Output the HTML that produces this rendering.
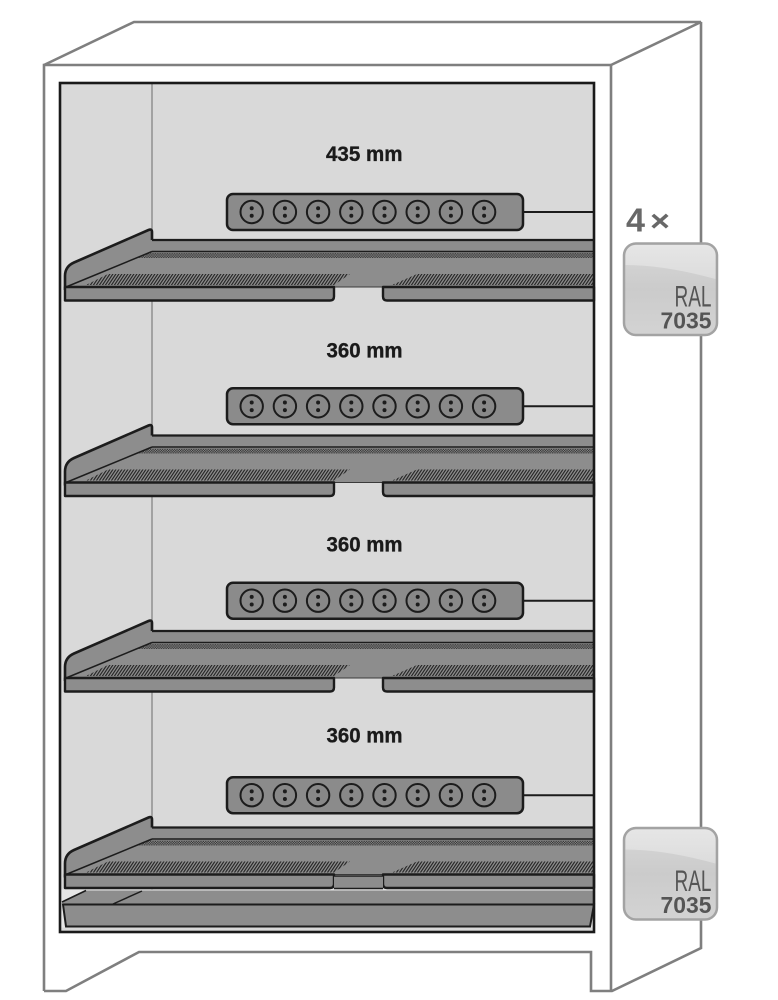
<!DOCTYPE html>
<html><head><meta charset="utf-8">
<style>html,body{margin:0;padding:0;background:#fff;}svg{display:block}</style>
</head>
<body>
<svg width="778" height="1000" viewBox="0 0 778 1000" xmlns="http://www.w3.org/2000/svg" font-family="'Liberation Sans', sans-serif">
<defs>
  <pattern id="hatch" patternUnits="userSpaceOnUse" width="3" height="12" patternTransform="skewX(-34)">
    <rect width="3" height="12" fill="#8d8d8d"/>
    <rect width="1.4" height="12" fill="#262626"/>
  </pattern>
  <pattern id="perf" patternUnits="userSpaceOnUse" width="2.4" height="2.4">
    <rect width="2.4" height="2.4" fill="#8d8d8d"/>
    <rect width="1.2" height="1.2" fill="#2e2e2e"/>
    <rect x="1.2" y="1.2" width="1.2" height="1.2" fill="#2e2e2e"/>
  </pattern>
  <linearGradient id="bgrad" x1="0" y1="0" x2="0" y2="1">
    <stop offset="0" stop-color="#d8d8d8"/>
    <stop offset="0.5" stop-color="#cbcbcb"/>
    <stop offset="1" stop-color="#d3d3d3"/>
  </linearGradient>
  <linearGradient id="hgrad" x1="0" y1="0" x2="0" y2="1">
    <stop offset="0" stop-color="#e6e6e6"/>
    <stop offset="1" stop-color="#dcdcdc"/>
  </linearGradient>

  <g id="shelf">
    <polygon points="152,251 594,251 594,287 65,287" fill="#8d8d8d"/>
    <rect x="152" y="240" width="442" height="11" fill="#8d8d8d"/>
    <line x1="152" y1="240" x2="594" y2="240" stroke="#1c1c1c" stroke-width="2.2"/>
    <line x1="150" y1="251.5" x2="594" y2="251.5" stroke="#1c1c1c" stroke-width="1.6"/>
    <polygon points="148,253 594,253 594,258 137,258" fill="url(#perf)"/>
    <polygon points="108,274 350,274 334,285 86,285" fill="url(#hatch)"/>
    <polygon points="417,274 594,274 594,285 392,285" fill="url(#hatch)"/>
    <path d="M152,252 L152,232 Q152,228.5 148.5,230 L74,262.5 Q65,266.5 65,276 L65,287 Z" fill="#8d8d8d"/>
    <path d="M152,240 L152,232 Q152,228.5 148.5,230 L74,262.5 Q65,266.5 65,276 L65,290" fill="none" stroke="#1c1c1c" stroke-width="2.6" stroke-linejoin="round"/>
    <line x1="152" y1="251.5" x2="66" y2="287" stroke="#1c1c1c" stroke-width="1.5"/>
    <line x1="334" y1="287" x2="383" y2="287" stroke="#3a3a3a" stroke-width="1"/>
    <path d="M65,287 H334 V296.5 Q334,300.5 330,300.5 H65 Z" fill="#8d8d8d" stroke="#1c1c1c" stroke-width="2.4" stroke-linejoin="round"/>
    <path d="M594,287 H383 V296.5 Q383,300.5 387,300.5 H594 Z" fill="#8d8d8d" stroke="#1c1c1c" stroke-width="2.4" stroke-linejoin="round"/>
  </g>

  <g id="strip">
    <line x1="523" y1="212" x2="594" y2="212" stroke="#1c1c1c" stroke-width="2"/>
    <rect x="227" y="194" width="296" height="36" rx="6" fill="#8b8b8b" stroke="#1c1c1c" stroke-width="2.5"/>
    <g fill="#888" stroke="#1c1c1c" stroke-width="2">
      <circle cx="251.7" cy="212" r="11.2"/>
      <circle cx="284.9" cy="212" r="11.2"/>
      <circle cx="318.1" cy="212" r="11.2"/>
      <circle cx="351.3" cy="212" r="11.2"/>
      <circle cx="384.5" cy="212" r="11.2"/>
      <circle cx="417.7" cy="212" r="11.2"/>
      <circle cx="450.9" cy="212" r="11.2"/>
      <circle cx="484.1" cy="212" r="11.2"/>
    </g>
    <g fill="#1c1c1c">
      <circle cx="251.7" cy="208.2" r="2"/><circle cx="251.7" cy="215.8" r="2"/>
      <circle cx="284.9" cy="208.2" r="2"/><circle cx="284.9" cy="215.8" r="2"/>
      <circle cx="318.1" cy="208.2" r="2"/><circle cx="318.1" cy="215.8" r="2"/>
      <circle cx="351.3" cy="208.2" r="2"/><circle cx="351.3" cy="215.8" r="2"/>
      <circle cx="384.5" cy="208.2" r="2"/><circle cx="384.5" cy="215.8" r="2"/>
      <circle cx="417.7" cy="208.2" r="2"/><circle cx="417.7" cy="215.8" r="2"/>
      <circle cx="450.9" cy="208.2" r="2"/><circle cx="450.9" cy="215.8" r="2"/>
      <circle cx="484.1" cy="208.2" r="2"/><circle cx="484.1" cy="215.8" r="2"/>
    </g>
  </g>

  <g id="badge">
    <rect x="624" y="243.5" width="93" height="91.5" rx="12" fill="url(#bgrad)"/>
    <path d="M625.5,265 Q665,265 715.5,279 V256 Q715.5,245 704.5,245 H636.5 Q625.5,245 625.5,256 Z" fill="url(#hgrad)"/>
    <rect x="624" y="243.5" width="93" height="91.5" rx="12" fill="none" stroke="#a3a3a3" stroke-width="2.5"/>
  </g>
</defs>

<rect width="778" height="1000" fill="#fff"/>

<!-- cabinet outline -->
<g fill="none" stroke="#7f7f7f" stroke-width="2.6" stroke-linejoin="miter">
  <polyline points="44,991 44,65 611,65"/>
  <polyline points="44,65 134,22 701,22 611,65"/>
  <line x1="611" y1="65" x2="611" y2="991"/>
  <polyline points="44,991 66,991 139,952 591,952 591,991 612,991 701,948 701,22"/>
</g>

<!-- interior -->
<rect x="60" y="83" width="534" height="849" fill="#d9d9d9"/>
<line x1="152" y1="84" x2="152" y2="890" stroke="#6a6a6a" stroke-width="1"/>

<!-- shelves -->
<use href="#shelf"/>
<use href="#shelf" transform="translate(0,195.5)"/>
<use href="#shelf" transform="translate(0,391)"/>
<use href="#shelf" transform="translate(0,587.5)"/>
<rect x="334" y="876" width="49" height="12.5" fill="#8d8d8d"/>
<line x1="334" y1="876" x2="383" y2="876" stroke="#1c1c1c" stroke-width="1.6"/>
<line x1="334" y1="888.5" x2="383" y2="888.5" stroke="#1c1c1c" stroke-width="1.6"/>

<!-- sump tray -->
<rect x="61" y="889.5" width="532" height="38" fill="#e6e6e6"/>
<polygon points="86,890.5 594,890.5 594,904.5 63,904.5 62,902" fill="#8d8d8d"/>
<line x1="62" y1="902" x2="86" y2="890.5" stroke="#1c1c1c" stroke-width="1.6"/>
<line x1="113" y1="904" x2="142" y2="891" stroke="#1c1c1c" stroke-width="1.5"/>
<polygon points="63,904.5 594,904.5 590,926.5 66,926.5" fill="#8d8d8d" stroke="#1c1c1c" stroke-width="2"/>

<!-- power strips -->
<use href="#strip"/>
<use href="#strip" transform="translate(0,194.3)"/>
<use href="#strip" transform="translate(0,388.7)"/>
<use href="#strip" transform="translate(0,583.2)"/>

<!-- labels -->
<g font-weight="bold" font-size="21" fill="#1a1a1a" stroke="#1a1a1a" stroke-width="0.35">
  <text x="326" y="161" textLength="76.5" lengthAdjust="spacingAndGlyphs">435 mm</text>
  <text x="326.5" y="357.7" textLength="76" lengthAdjust="spacingAndGlyphs">360 mm</text>
  <text x="326.5" y="551.5" textLength="76" lengthAdjust="spacingAndGlyphs">360 mm</text>
  <text x="326.5" y="742.7" textLength="76" lengthAdjust="spacingAndGlyphs">360 mm</text>
</g>

<!-- interior border -->
<rect x="60" y="83" width="534" height="849" fill="none" stroke="#1a1a1a" stroke-width="2.6"/>

<!-- badges -->
<use href="#badge"/>
<use href="#badge" transform="translate(0,584.5)"/>

<g fill="#686868" font-weight="bold">
  <text x="626" y="231.7" font-size="33" textLength="19" lengthAdjust="spacingAndGlyphs">4</text>
  <text x="650" y="231" font-size="30" textLength="20" lengthAdjust="spacingAndGlyphs">×</text>
</g>
<g fill="#555">
  <text x="711.5" y="306.7" font-size="30" text-anchor="end" textLength="37" lengthAdjust="spacingAndGlyphs">RAL</text>
  <text x="711.5" y="328.5" font-size="23" font-weight="bold" text-anchor="end" textLength="51" lengthAdjust="spacingAndGlyphs">7035</text>
  <text x="711.5" y="891.2" font-size="30" text-anchor="end" textLength="37" lengthAdjust="spacingAndGlyphs">RAL</text>
  <text x="711.5" y="913" font-size="23" font-weight="bold" text-anchor="end" textLength="51" lengthAdjust="spacingAndGlyphs">7035</text>
</g>
</svg>
</body>
</html>
